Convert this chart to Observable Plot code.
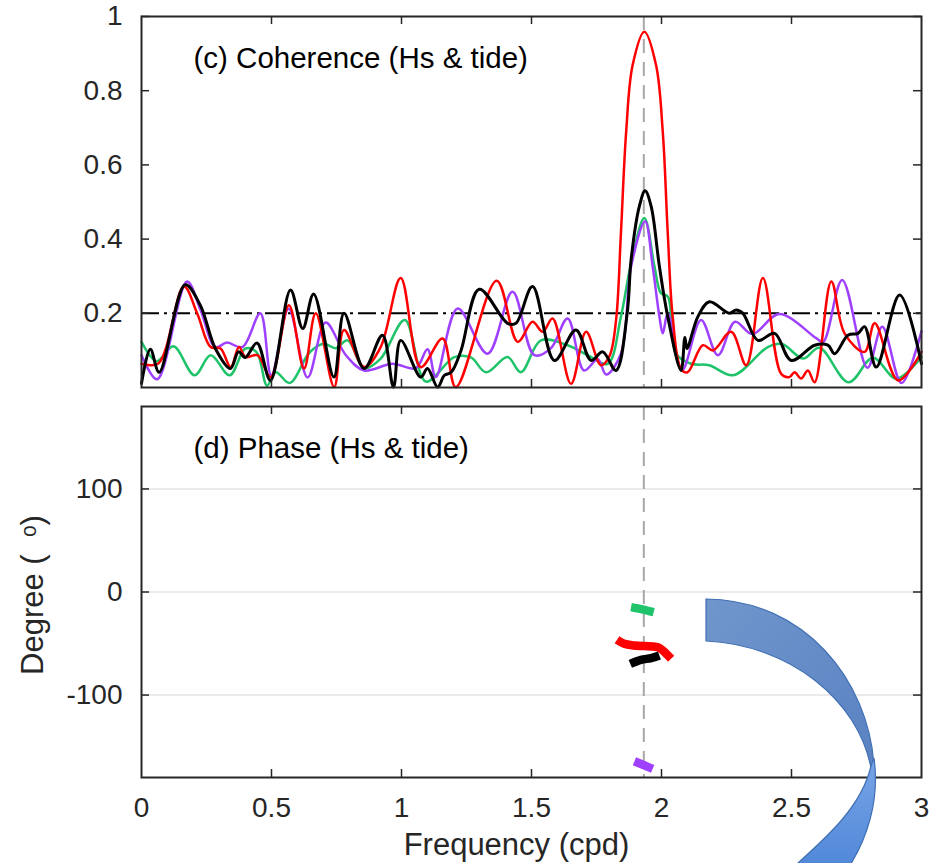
<!DOCTYPE html>
<html><head><meta charset="utf-8">
<script src="https://cdn.jsdelivr.net/npm/d3@7"></script>
<script src="https://cdn.jsdelivr.net/npm/@observablehq/plot@0.6"></script>
<style>
body{margin:0;background:#fff;}
#wrap{position:relative;width:929px;height:863px;overflow:hidden;font-family:"Liberation Sans",Arial,Helvetica,sans-serif;}
#wrap svg{display:block}
#arrow{position:absolute;left:0;top:0;pointer-events:none}
</style></head><body><div id="wrap"></div>
<script>
// ---- data (frequency in cpd, coherence) ----
const cohRed = [[0.000,0.064],[0.065,0.065],[0.163,0.272],[0.214,0.200],[0.266,0.109],[0.304,0.105],[0.343,0.055],[0.375,0.109],[0.400,0.082],[0.446,0.087],[0.497,0.028],[0.567,0.222],[0.625,0.051],[0.670,0.200],[0.741,0.001],[0.779,0.155],[0.856,0.055],[0.920,0.109],[0.997,0.295],[1.074,0.055],[1.158,0.132],[1.209,0.001],[1.366,0.288],[1.447,0.123],[1.504,0.177],[1.543,0.150],[1.581,0.186],[1.652,0.010],[1.710,0.150],[1.767,0.060],[1.800,0.085],[1.825,0.180],[1.844,0.417],[1.864,0.688],[1.889,0.869],[1.934,0.959],[1.979,0.869],[2.005,0.688],[2.024,0.417],[2.043,0.191],[2.075,0.050],[2.100,0.041],[2.159,0.114],[2.198,0.100],[2.268,0.150],[2.326,0.060],[2.390,0.295],[2.460,0.037],[2.492,0.028],[2.512,0.041],[2.537,0.024],[2.563,0.046],[2.589,0.014],[2.653,0.286],[2.704,0.146],[2.781,0.096],[2.820,0.173],[2.910,0.019],[3.000,0.096]];
const cohPurple = [[0.000,0.087],[0.060,0.022],[0.175,0.286],[0.227,0.209],[0.284,0.109],[0.329,0.121],[0.388,0.109],[0.457,0.200],[0.499,0.033],[0.566,0.212],[0.639,0.027],[0.708,0.175],[0.786,0.087],[0.856,0.046],[0.965,0.064],[1.055,0.052],[1.100,0.103],[1.132,0.028],[1.216,0.213],[1.331,0.091],[1.427,0.258],[1.511,0.087],[1.575,0.106],[1.639,0.186],[1.702,0.046],[1.755,0.076],[1.787,0.035],[1.844,0.091],[1.883,0.326],[1.937,0.448],[1.966,0.326],[1.992,0.191],[2.005,0.146],[2.024,0.200],[2.079,0.046],[2.152,0.182],[2.217,0.087],[2.283,0.177],[2.349,0.144],[2.453,0.198],[2.595,0.133],[2.622,0.123],[2.695,0.290],[2.792,0.053],[2.849,0.164],[2.923,0.012],[3.000,0.152]];
const cohGreen = [[0.000,0.123],[0.058,0.071],[0.123,0.111],[0.204,0.033],[0.266,0.087],[0.339,0.033],[0.400,0.105],[0.443,0.095],[0.483,0.005],[0.516,0.041],[0.570,0.012],[0.647,0.095],[0.701,0.118],[0.747,0.106],[0.793,0.127],[0.856,0.052],[0.920,0.078],[1.013,0.182],[1.094,0.016],[1.203,0.082],[1.267,0.081],[1.325,0.041],[1.408,0.082],[1.459,0.041],[1.536,0.127],[1.639,0.114],[1.716,0.087],[1.793,0.064],[1.844,0.191],[1.883,0.335],[1.934,0.457],[1.973,0.326],[1.998,0.254],[2.024,0.245],[2.056,0.091],[2.114,0.064],[2.183,0.060],[2.276,0.033],[2.409,0.109],[2.464,0.117],[2.545,0.078],[2.607,0.107],[2.720,0.014],[2.813,0.080],[2.903,0.024],[3.000,0.082]];
const cohBlack = [[0.000,0.011],[0.034,0.103],[0.068,0.041],[0.168,0.277],[0.226,0.222],[0.284,0.105],[0.342,0.051],[0.373,0.096],[0.399,0.081],[0.444,0.120],[0.496,0.019],[0.573,0.263],[0.620,0.159],[0.662,0.252],[0.740,0.028],[0.779,0.200],[0.856,0.051],[0.927,0.141],[0.969,0.001],[0.997,0.127],[1.074,0.028],[1.100,0.051],[1.139,0.001],[1.165,0.033],[1.191,0.041],[1.229,0.100],[1.299,0.265],[1.408,0.173],[1.440,0.173],[1.504,0.272],[1.588,0.073],[1.671,0.155],[1.729,0.073],[1.774,0.096],[1.825,0.046],[1.868,0.200],[1.883,0.344],[1.915,0.489],[1.937,0.530],[1.960,0.489],[1.992,0.326],[2.024,0.191],[2.075,0.046],[2.090,0.135],[2.098,0.105],[2.140,0.191],[2.184,0.231],[2.261,0.200],[2.287,0.209],[2.313,0.200],[2.371,0.127],[2.435,0.146],[2.499,0.073],[2.589,0.114],[2.640,0.114],[2.666,0.091],[2.717,0.141],[2.756,0.146],[2.781,0.164],[2.826,0.055],[2.916,0.249],[3.000,0.064]];

// ---- phase (frequency, degree) ----
const phaseGreen = [[1.883,-14.7],[1.926,-16.8],[1.970,-19.6]];
const phaseRed = [[1.829,-46.4],[1.857,-50.3],[1.896,-51.9],[1.986,-53.6],[2.005,-56.8],[2.037,-64.8]];
const phaseBlack = [[1.880,-69.7],[1.921,-65.8],[1.960,-64.2],[1.992,-61.6]];
const phasePurple = [[1.896,-164.2],[1.931,-167.9],[1.966,-171.6]];

const seriesNames = ["green","purple","red","black"];
const seriesColors = ["#1fc36a","#a040ff","#ff0000","#000000"];
const seriesWidths = [2.5,2.5,2.5,3];

const m2Freq = 1.932;
const threshold = 0.2;
const xTicks = [0,0.5,1,1.5,2,2.5,3];
const cohTicks = [0.2,0.4,0.6,0.8,1];
const phaseTicks = [-100,0,100];
const titleC = "(c) Coherence (Hs & tide)";
const titleD = "(d) Phase (Hs & tide)";
const xLabel = "Frequency (cpd)";
const yLabelPhase = "Degree (\u00A0 \u1D52)";

// ---- build tables ----
const cohSets = [cohGreen, cohPurple, cohRed, cohBlack];
const phaseSets = [phaseGreen, phasePurple, phaseRed, phaseBlack];
const toRows = (sets) => sets.map((pts, i) => pts.map(([f, v]) => ({f, v, s: seriesNames[i]})));
const cohRows = toRows(cohSets);
const phaseRows = toRows(phaseSets);

const W = 929, ML = 141, MR = 8;
const frameW = W - ML - MR;
const axisColor = "#262626";
const font = '"Liberation Sans", Arial, Helvetica, sans-serif';

function tickMarks(xt, yt, frameH) {
  return [
    Plot.tickX(xt.slice(1, -1), {x: d => d, insetTop: frameH - 8, stroke: axisColor, strokeWidth: 1.5}),
    Plot.tickX(xt.slice(1, -1), {x: d => d, insetBottom: frameH - 8, stroke: axisColor, strokeWidth: 1.5}),
    Plot.tickY(yt, {y: d => d, insetRight: frameW - 8, stroke: axisColor, strokeWidth: 1.5}),
    Plot.tickY(yt, {y: d => d, insetLeft: frameW - 8, stroke: axisColor, strokeWidth: 1.5})
  ];
}

// ---- top panel: coherence ----
const topH = 395, topMT = 16, topMB = 8;
const topPlot = Plot.plot({
  width: W, height: topH, marginLeft: ML, marginRight: MR, marginTop: topMT, marginBottom: topMB,
  style: {fontFamily: font, fontSize: "28px", color: axisColor, background: "white", overflow: "visible"},
  x: {domain: [0, 3], axis: null},
  y: {domain: [0, 1]},
  marks: [
    Plot.ruleX([m2Freq], {stroke: "#a8a8a8", strokeWidth: 2, strokeDasharray: "14,9"}),
    Plot.ruleY([threshold], {stroke: "#000", strokeWidth: 2, strokeDasharray: "18,5,3,5"}),
    ...cohRows.map((rows, i) => Plot.line(rows, {x: "f", y: "v", stroke: seriesColors[i], strokeWidth: seriesWidths[i], curve: "catmull-rom", strokeLinejoin: "round"})),
    ...tickMarks(xTicks, cohTicks, topH - topMT - topMB),
    Plot.axisY({ticks: cohTicks, tickSize: 0, tickPadding: 19, tickFormat: d => String(d), label: null, fontSize: 28, fill: axisColor}),
    Plot.frame({stroke: axisColor, strokeWidth: 2}),
    Plot.text([titleC], {frameAnchor: "top-left", dx: 52, dy: 31, textAnchor: "start", fontSize: 29.5, fill: "#000"})
  ]
});

// ---- bottom panel: phase ----
const botH = 468, botMT = 11, botMB = 86;
const botPlot = Plot.plot({
  width: W, height: botH, marginLeft: ML, marginRight: MR, marginTop: botMT, marginBottom: botMB,
  style: {fontFamily: font, fontSize: "28px", color: axisColor, background: "white", overflow: "visible"},
  x: {domain: [0, 3]},
  y: {domain: [-180, 180]},
  marks: [
    Plot.ruleY(phaseTicks, {stroke: "#e4e4e4", strokeWidth: 1.5}),
    Plot.ruleX([m2Freq], {stroke: "#a8a8a8", strokeWidth: 2, strokeDasharray: "14,9"}),
    ...phaseRows.map((rows, i) => Plot.line(rows, {x: "f", y: "v", stroke: seriesColors[i], strokeWidth: 8.5, strokeLinecap: "butt", curve: "catmull-rom"})),
    ...tickMarks(xTicks, phaseTicks, botH - botMT - botMB),
    Plot.axisY({ticks: phaseTicks, tickSize: 0, tickPadding: 19, tickFormat: d => String(d), label: null, fontSize: 28, fill: axisColor}),
    Plot.axisX({ticks: xTicks, tickSize: 0, tickPadding: 20, tickFormat: d => String(d), label: null, fontSize: 28, fill: axisColor}),
    Plot.frame({stroke: axisColor, strokeWidth: 2}),
    Plot.text([titleD], {frameAnchor: "top-left", dx: 52, dy: 31, textAnchor: "start", fontSize: 29.5, fill: "#000"}),
    Plot.text([yLabelPhase], {frameAnchor: "left", dx: -108, dy: 3, rotate: -90, textAnchor: "middle", fontSize: 31, fill: axisColor}),
    Plot.text([xLabel], {frameAnchor: "bottom", dx: -15, dy: 77, textAnchor: "middle", fontSize: 31, fill: axisColor})
  ]
});

const wrap = document.getElementById("wrap");
wrap.appendChild(topPlot);
wrap.appendChild(botPlot);

// ---- decorative curved arrow annotation (overlay) ----
const ns = "http://www.w3.org/2000/svg";
const ov = document.createElementNS(ns, "svg");
ov.setAttribute("id", "arrow");
ov.setAttribute("width", W);
ov.setAttribute("height", 863);
ov.innerHTML = `
<defs>
 <linearGradient id="g1" x1="0" y1="0" x2="1" y2="1">
  <stop offset="0" stop-color="#7096cc"/><stop offset="1" stop-color="#5a82c2"/>
 </linearGradient>
 <linearGradient id="g2" x1="0" y1="0" x2="0" y2="1">
  <stop offset="0" stop-color="#79a5e6"/><stop offset="1" stop-color="#4f87d8"/>
 </linearGradient>
</defs>
<path d="M706,599 C805,600 868,680 874,765 L871,768 C858,700 790,645 706,641 Z" fill="url(#g1)" stroke="#4170b4" stroke-width="1.2"/>
<path d="M874,758 C880,800 867,840 847,870 L790,870 C830,835 862,805 871,766 Z" fill="url(#g2)" stroke="#4170b4" stroke-width="1.2"/>`;
wrap.appendChild(ov);
</script>
</body></html>
